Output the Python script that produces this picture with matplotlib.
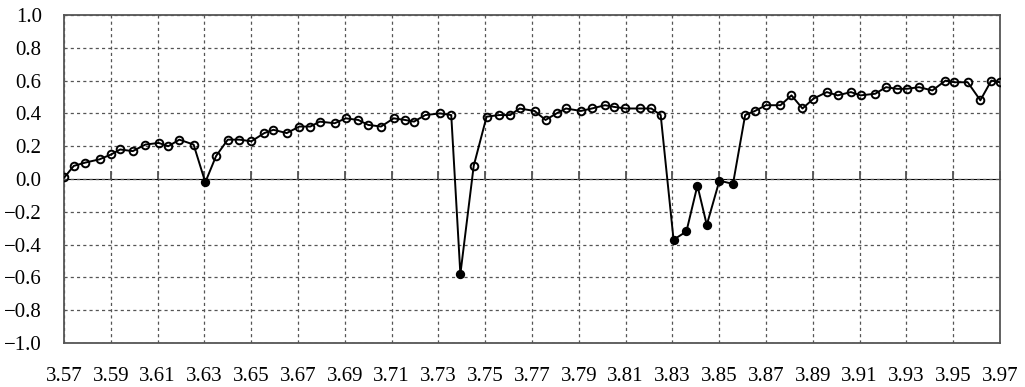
import matplotlib
matplotlib.use("Agg")
import matplotlib.pyplot as plt
import numpy as np

plt.rcParams['font.family'] = ['Liberation Serif', 'DejaVu Serif']

# measured positions and values
x_vals = [3.5702, 3.5742, 3.5791, 3.5852, 3.5902, 3.5940, 3.5994, 3.6048, 3.6105, 3.6146,
          3.6193, 3.6254, 3.6304, 3.6350, 3.6400, 3.6450, 3.6501, 3.6556, 3.6595, 3.6652,
          3.6706, 3.6753, 3.6793, 3.6857, 3.6904, 3.6958, 3.7000, 3.7055, 3.7109, 3.7158,
          3.7196, 3.7244, 3.7307, 3.7355, 3.7394, 3.7451, 3.7506, 3.7560, 3.7607, 3.7647,
          3.7711, 3.7758, 3.7805, 3.7845, 3.7909, 3.7956, 3.8012, 3.8050, 3.8099, 3.8161,
          3.8210, 3.8250, 3.8305, 3.8360, 3.8407, 3.8447, 3.8501, 3.8559, 3.8611, 3.8653,
          3.8700, 3.8762, 3.8809, 3.8856, 3.8903, 3.8960, 3.9006, 3.9063, 3.9104, 3.9167,
          3.9213, 3.9260, 3.9302, 3.9354, 3.9411, 3.9467, 3.9505, 3.9562, 3.9616, 3.9663,
          3.9700]
y_vals = [0.01, 0.08, 0.10, 0.12, 0.15, 0.18, 0.17, 0.21, 0.22, 0.20,
          0.24, 0.21, -0.02, 0.14, 0.24, 0.24, 0.23, 0.28, 0.30, 0.28,
          0.32, 0.32, 0.35, 0.34, 0.37, 0.36, 0.33, 0.32, 0.37, 0.36,
          0.35, 0.39, 0.40, 0.39, -0.58, 0.08, 0.38, 0.39, 0.39, 0.43,
          0.415, 0.36, 0.40, 0.43, 0.415, 0.43, 0.45, 0.44, 0.43, 0.43,
          0.43, 0.39, -0.37, -0.32, -0.04, -0.28, -0.01, -0.03, 0.39, 0.415,
          0.45, 0.45, 0.51, 0.43, 0.49, 0.53, 0.51, 0.53, 0.51, 0.52,
          0.56, 0.55, 0.55, 0.56, 0.54, 0.60, 0.59, 0.59, 0.48, 0.60,
          0.59]
x_ticks = [3.57, 3.59, 3.61, 3.63, 3.65, 3.67, 3.69, 3.71, 3.73, 3.75, 3.77,
           3.79, 3.81, 3.83, 3.85, 3.87, 3.89, 3.91, 3.93, 3.95, 3.97]
y_ticks = [-1.0, -0.8, -0.6, -0.4, -0.2, 0.0, 0.2, 0.4, 0.6, 0.8, 1.0]

x = np.array(x_vals)
y = np.array(y_vals)
neg = y < 0

fig = plt.figure(figsize=(10.25, 3.87), dpi=100)
ax = fig.add_axes([0.0624, 0.1137, 0.9132, 0.8475])

ax.plot(x, y, color='black', lw=1.4, zorder=3)
ax.plot(x[~neg], y[~neg], 'o', ms=5.5, mfc='none', mec='black', mew=1.4, zorder=4)
ax.plot(x[neg], y[neg], 'o', ms=5.5, mfc='black', mec='black', mew=1.2, zorder=4)

ax.set_xlim(3.57, 3.97)
ax.set_ylim(-1.0, 1.0)
ax.set_xticks(x_ticks)
ax.set_xticklabels([f"{t:.2f}" for t in x_ticks])
ax.set_yticks(y_ticks)
ax.set_yticklabels([f"{t:.1f}".replace('-', '\u2212') for t in y_ticks])
ax.tick_params(length=0, labelsize=15)
ax.tick_params(axis='x', pad=17)
ax.tick_params(axis='y', pad=16)
ax.grid(True, color='#555555', linestyle=(0, (2.5, 2.5)), lw=0.9)
for s in ax.spines.values():
    s.set_color('#555555')
    s.set_linewidth(1.3)

# zero axis with small ticks
sec = ax.secondary_xaxis(0.5)
sec.set_xticks(x_ticks)
sec.tick_params(direction='out', length=6, width=1.2, color='#444444', labelbottom=False, labeltop=False)
sec.spines['bottom'].set_color('#444444')
sec.spines['bottom'].set_linewidth(1.6)

fig.savefig('out.png', dpi=100)
